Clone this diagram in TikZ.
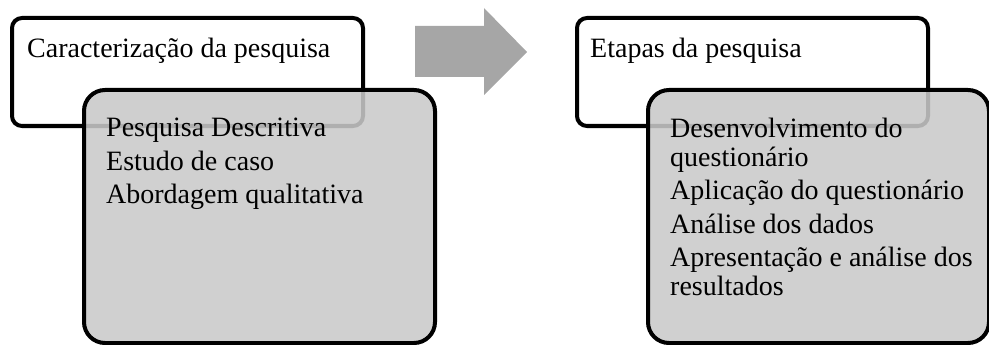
\documentclass[tikz,border=0pt]{standalone}
\usepackage{fontspec}
\setmainfont{Liberation Serif}
\usetikzlibrary{positioning}

\definecolor{boxgray}{RGB}{201,201,201}
\definecolor{arrowgray}{RGB}{166,166,166}

\tikzset{
    titlebox/.style={draw, line width=4pt, rounded corners=10pt, fill=white,
        minimum width=351pt, minimum height=108pt, inner sep=0pt, anchor=north west},
    listbox/.style={draw, line width=4pt, rounded corners=21pt, fill=boxgray,
        fill opacity=0.875, draw opacity=1, minimum height=253pt, inner sep=0pt},
    boxtext/.style={anchor=north west, inner sep=0pt, align=left,
        font=\fontsize{28}{28.5}\selectfont}
}

\begin{document}
\begin{tikzpicture}[x=1pt, y=-1pt]
    % Frame
    \useasboundingbox (0,0) rectangle (989,345);

    % Left panel
    \node[titlebox] (caract) at (10,16) {};
    \node[listbox, minimum width=351pt, below right=72pt and 72pt of caract.north west] (caractlist) {};
    \node[boxtext] (caracttitle) at (27,38) {Caracterização da pesquisa};
    \node[boxtext] (caractitems) at (106,118) {Pesquisa Descritiva\\[5pt]
        Estudo de caso\\[5pt]
        Abordagem qualitativa};

    % Arrow between panels
    \fill[arrowgray] (415,26) -- (484,26) -- (484,8) -- (527,52)
        -- (484,95) -- (484,77) -- (415,77) -- cycle;

    % Right panel
    \node[titlebox] (etapas) at (575,16) {};
    \node[listbox, minimum width=341pt, below right=72pt and 71pt of etapas.north west] (etapaslist) {};
    \node[boxtext] (etapastitle) at (590,38) {Etapas da pesquisa};
    \node[boxtext] (etapasitems) at (670,118) {Desenvolvimento do\\
        questionário\\[5pt]
        Aplicação do questionário\\[5pt]
        Análise dos dados\\[5pt]
        Apresentação e análise dos\\
        resultados};
\end{tikzpicture}
\end{document}
